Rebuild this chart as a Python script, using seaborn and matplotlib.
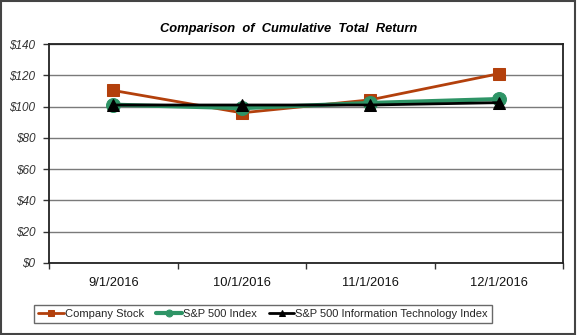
import matplotlib
matplotlib.use("Agg")
import matplotlib.pyplot as plt
import seaborn as sns
import pandas as pd
from matplotlib.patches import Rectangle

dates = ["9/1/2016", "10/1/2016", "11/1/2016", "12/1/2016"]
company = [110.3, 96.0, 104.3, 121.0]
sp500 = [101.2, 99.0, 102.3, 104.8]
sp500_it = [101.0, 101.0, 101.0, 102.5]
series_names = ["Company Stock", "S&P 500 Index", "S&P 500 Information Technology Index"]
yticks = [0, 20, 40, 60, 80, 100, 120, 140]

sns.set_theme(style="white")
plt.rcParams['font.family'] = ['Liberation Sans', 'DejaVu Sans']

fig = plt.figure(figsize=(5.77, 3.35), dpi=100)
ax = fig.add_axes([49/577, 72/335, (563-49)/577, (263-44)/335])

df = pd.DataFrame({
    "x": list(range(len(dates))) * 3,
    "value": company + sp500 + sp500_it,
    "series": [series_names[0]] * 4 + [series_names[1]] * 4 + [series_names[2]] * 4,
})

styles = {
    series_names[0]: dict(color="#B3400C", marker="s", ms=9, lw=2.0),
    series_names[1]: dict(color="#2E9466", marker="o", ms=10, lw=3.0),
    series_names[2]: dict(color="#000000", marker="^", ms=8.5, lw=2.0),
}
for name in series_names:
    st = styles[name]
    sub = df[df["series"] == name]
    sns.lineplot(data=sub, x="x", y="value", ax=ax, color=st["color"], marker=st["marker"],
                 markersize=st["ms"], linewidth=st["lw"], markeredgecolor=st["color"],
                 label=name, legend=False)

ax.set_xlim(-0.5, len(dates) - 0.5)
ax.set_ylim(0, 140)
ax.set_yticks(yticks)
ax.set_yticklabels([f"${v}" for v in yticks], fontsize=8.5, style="italic", color="#333333")
ax.yaxis.grid(True, color="#7a7a7a", linewidth=1.0)
ax.xaxis.grid(False)
ax.set_xticks(range(len(dates)))
ax.set_xticklabels(dates, fontsize=9.3, color="#111111")
ax.tick_params(axis="x", length=0, pad=10)
ax.tick_params(axis="y", length=4, width=1, direction="out", color="#333333", pad=6, left=True)
ax.set_xticks([i - 0.5 for i in range(len(dates) + 1)], minor=True)
ax.tick_params(axis="x", which="minor", length=4, width=1, direction="out", color="#333333", bottom=True)
ax.set_xlabel("")
ax.set_ylabel("")
for s in ax.spines.values():
    s.set_visible(True)
    s.set_color("#222222")
    s.set_linewidth(1.3)

fig.text(0.5, 1 - 29/335, "Comparison  of  Cumulative  Total  Return", ha="center", va="center",
         fontsize=9.3, fontweight="bold", style="italic", color="#000000")

handles, labels = ax.get_legend_handles_labels()
leg = fig.legend(handles, labels, loc="center", bbox_to_anchor=(263/577, 1 - 314/335), ncol=3,
                 fontsize=8, frameon=True, fancybox=False, edgecolor="#444444",
                 handlelength=2.3, handletextpad=0.1, columnspacing=1.1, borderpad=0.35,
                 markerscale=0.5)
leg.get_frame().set_linewidth(1.0)

fig.patches.append(Rectangle((0.002, 0.003), 0.995, 0.994, transform=fig.transFigure,
                             fill=False, edgecolor="#444444", linewidth=1.5))

fig.savefig("out.png", dpi=100)
